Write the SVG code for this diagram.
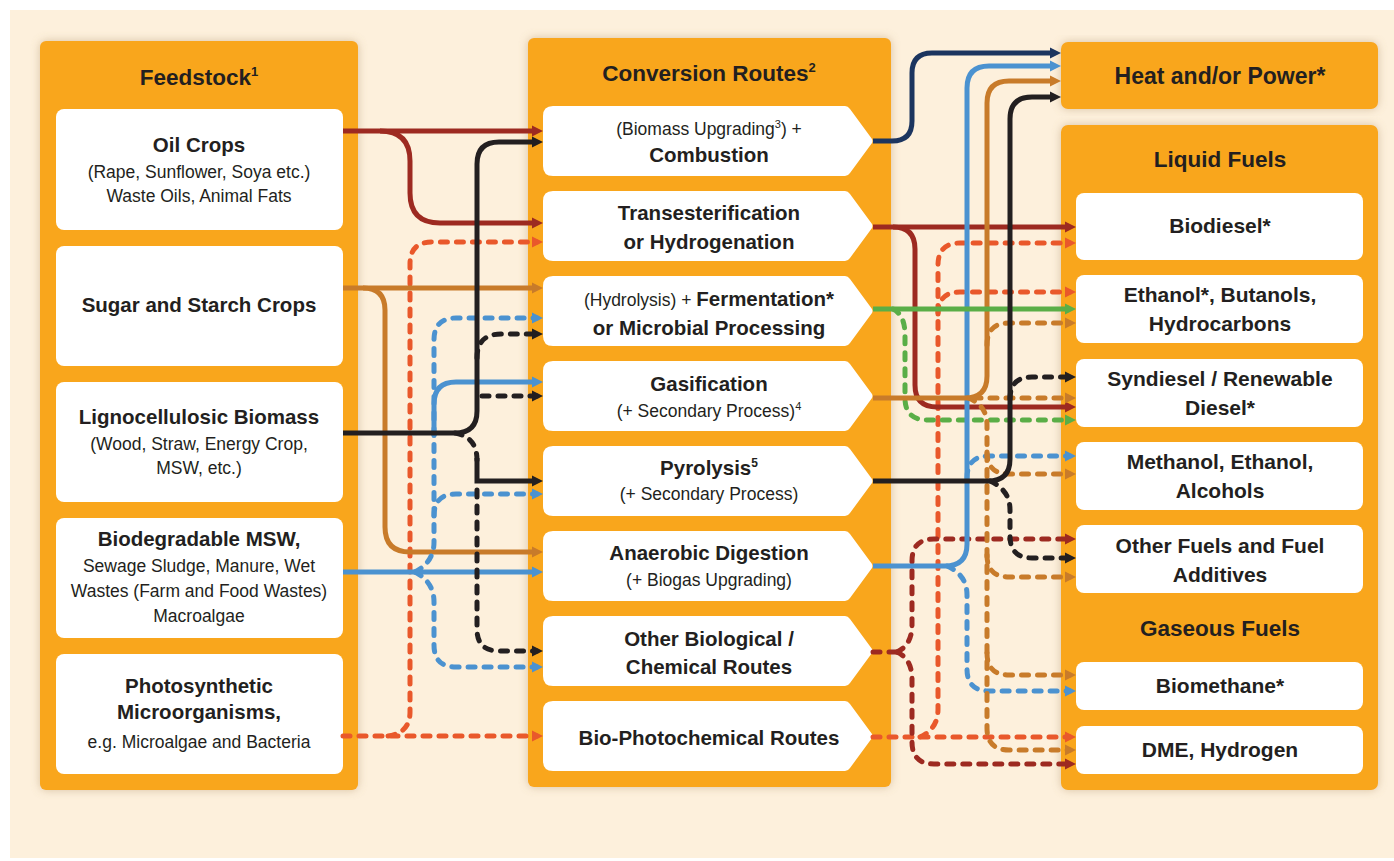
<svg xmlns="http://www.w3.org/2000/svg" width="1394" height="861" viewBox="0 0 1394 861">
<style>
.t{font-family:"Liberation Sans",Arial,sans-serif;fill:#231F20;text-anchor:middle}
.b{font-weight:bold;font-size:20.5px}
.r{font-size:17.5px}
.h{font-weight:bold;font-size:22.5px}
.rb{font-weight:bold;font-size:21px}
.panel{fill:#F9A61C;filter:url(#sh)}
.box{fill:#FFFFFF}
.c{fill:none;stroke-width:5}
.d{stroke-dasharray:7 9;stroke-linecap:round}
.dr{stroke:#9D2A21}.bk{stroke:#231F20}.or{stroke:#E9582B}.tn{stroke:#C87B2A}.bl{stroke:#4B92D0}.gr{stroke:#5AAE47}.nv{stroke:#1C355F}
</style>
<defs>
<filter id="sh" x="-10%" y="-10%" width="120%" height="120%">
<feDropShadow dx="0" dy="0" stdDeviation="5" flood-color="#A8875A" flood-opacity="0.45"/>
</filter>
<marker id="aDR" markerUnits="userSpaceOnUse" markerWidth="12" markerHeight="12" viewBox="0 0 12 12" refX="5" refY="6" orient="auto"><path d="M0,0.5 L11,6 L0,11.5 z" fill="#9D2A21"/></marker>
<marker id="aBK" markerUnits="userSpaceOnUse" markerWidth="12" markerHeight="12" viewBox="0 0 12 12" refX="5" refY="6" orient="auto"><path d="M0,0.5 L11,6 L0,11.5 z" fill="#231F20"/></marker>
<marker id="aOR" markerUnits="userSpaceOnUse" markerWidth="12" markerHeight="12" viewBox="0 0 12 12" refX="5" refY="6" orient="auto"><path d="M0,0.5 L11,6 L0,11.5 z" fill="#E9582B"/></marker>
<marker id="aTN" markerUnits="userSpaceOnUse" markerWidth="12" markerHeight="12" viewBox="0 0 12 12" refX="5" refY="6" orient="auto"><path d="M0,0.5 L11,6 L0,11.5 z" fill="#C87B2A"/></marker>
<marker id="aBL" markerUnits="userSpaceOnUse" markerWidth="12" markerHeight="12" viewBox="0 0 12 12" refX="5" refY="6" orient="auto"><path d="M0,0.5 L11,6 L0,11.5 z" fill="#4B92D0"/></marker>
<marker id="aGR" markerUnits="userSpaceOnUse" markerWidth="12" markerHeight="12" viewBox="0 0 12 12" refX="5" refY="6" orient="auto"><path d="M0,0.5 L11,6 L0,11.5 z" fill="#5AAE47"/></marker>
<marker id="aNV" markerUnits="userSpaceOnUse" markerWidth="12" markerHeight="12" viewBox="0 0 12 12" refX="5" refY="6" orient="auto"><path d="M0,0.5 L11,6 L0,11.5 z" fill="#1C355F"/></marker>
</defs>
<rect x="0" y="0" width="1394" height="861" fill="#FFFFFF"/>
<rect x="10" y="10" width="1384" height="848" fill="#FDF0DC"/>

<!-- Panels -->
<g id="feedstock-panel">
<rect class="panel" x="40" y="41" width="318" height="749" rx="6"/>
<text class="t h" x="199" y="85">Feedstock<tspan dy="-9" font-size="13">1</tspan></text>
</g>
<g id="conversion-panel">
<rect class="panel" x="528" y="38" width="363" height="749" rx="6"/>
<text class="t h" x="709" y="81">Conversion Routes<tspan dy="-9" font-size="13">2</tspan></text>
</g>
<g id="heat-power">
<rect class="panel" x="1061" y="42" width="317" height="67" rx="7"/>
<text class="t h" x="1220" y="84" style="font-size:23px">Heat and/or Power*</text>
</g>
<g id="fuels-panel">
<rect class="panel" x="1061" y="125" width="317" height="665" rx="7"/>
<text class="t h" x="1220" y="167">Liquid Fuels</text>
<text class="t h" x="1220" y="636">Gaseous Fuels</text>
</g>

<!-- Feedstock nodes -->
<g id="oil-crops">
<rect class="box" x="56" y="109" width="287" height="121" rx="8"/>
<text class="t b" x="199" y="152">Oil Crops</text>
<text class="t r" x="199" y="178">(Rape, Sunflower, Soya etc.)</text>
<text class="t r" x="199" y="202">Waste Oils, Animal Fats</text>
</g>
<g id="sugar-starch">
<rect class="box" x="56" y="246" width="287" height="120" rx="8"/>
<text class="t b" x="199" y="312">Sugar and Starch Crops</text>
</g>
<g id="lignocellulosic">
<rect class="box" x="56" y="382" width="287" height="120" rx="8"/>
<text class="t b" x="199" y="424">Lignocellulosic Biomass</text>
<text class="t r" x="199" y="450">(Wood, Straw, Energy Crop,</text>
<text class="t r" x="199" y="474">MSW, etc.)</text>
</g>
<g id="biodegradable-msw">
<rect class="box" x="56" y="518" width="287" height="120" rx="8"/>
<text class="t b" x="199" y="546">Biodegradable MSW,</text>
<text class="t r" x="199" y="572">Sewage Sludge, Manure, Wet</text>
<text class="t r" x="199" y="597">Wastes (Farm and Food Wastes)</text>
<text class="t r" x="199" y="622">Macroalgae</text>
</g>
<g id="photosynthetic">
<rect class="box" x="56" y="654" width="287" height="120" rx="8"/>
<text class="t b" x="199" y="693">Photosynthetic</text>
<text class="t b" x="199" y="719">Microorganisms,</text>
<text class="t r" x="199" y="748">e.g. Microalgae and Bacteria</text>
</g>

<!-- Conversion nodes -->
<g id="combustion">
<path class="box" d="M553,106 H845 Q848,106 850,109 L872,139 Q873,141 872,143 L850,173 Q848,176 845,176 H553 Q543,176 543,166 V116 Q543,106 553,106 Z"/>
<text class="t r" x="709" y="135">(Biomass Upgrading<tspan dy="-7" font-size="11">3</tspan><tspan dy="7">) +</tspan></text>
<text class="t b" x="709" y="162">Combustion</text>
</g>
<g id="transesterification">
<path class="box" d="M553,191 H845 Q848,191 850,194 L872,224 Q873,226 872,228 L850,258 Q848,261 845,261 H553 Q543,261 543,251 V201 Q543,191 553,191 Z"/>
<text class="t b" x="709" y="220">Transesterification</text>
<text class="t b" x="709" y="249">or Hydrogenation</text>
</g>
<g id="fermentation">
<path class="box" d="M553,276 H845 Q848,276 850,279 L872,309 Q873,311 872,313 L850,343 Q848,346 845,346 H553 Q543,346 543,336 V286 Q543,276 553,276 Z"/>
<text class="t" x="709" y="306"><tspan class="r">(Hydrolysis) + </tspan><tspan class="b">Fermentation*</tspan></text>
<text class="t b" x="709" y="335">or Microbial Processing</text>
</g>
<g id="gasification">
<path class="box" d="M553,361 H845 Q848,361 850,364 L872,394 Q873,396 872,398 L850,428 Q848,431 845,431 H553 Q543,431 543,421 V371 Q543,361 553,361 Z"/>
<text class="t b" x="709" y="391">Gasification</text>
<text class="t r" x="709" y="417">(+ Secondary Process)<tspan dy="-7" font-size="11">4</tspan></text>
</g>
<g id="pyrolysis">
<path class="box" d="M553,446 H845 Q848,446 850,449 L872,479 Q873,481 872,483 L850,513 Q848,516 845,516 H553 Q543,516 543,506 V456 Q543,446 553,446 Z"/>
<text class="t b" x="709" y="475">Pyrolysis<tspan dy="-8" font-size="12">5</tspan></text>
<text class="t r" x="709" y="500">(+ Secondary Process)</text>
</g>
<g id="anaerobic-digestion">
<path class="box" d="M553,531 H845 Q848,531 850,534 L872,564 Q873,566 872,568 L850,598 Q848,601 845,601 H553 Q543,601 543,591 V541 Q543,531 553,531 Z"/>
<text class="t b" x="709" y="560">Anaerobic Digestion</text>
<text class="t r" x="709" y="586">(+ Biogas Upgrading)</text>
</g>
<g id="other-biological">
<path class="box" d="M553,616 H845 Q848,616 850,619 L872,649 Q873,651 872,653 L850,683 Q848,686 845,686 H553 Q543,686 543,676 V626 Q543,616 553,616 Z"/>
<text class="t b" x="709" y="646">Other Biological /</text>
<text class="t b" x="709" y="674">Chemical Routes</text>
</g>
<g id="bio-photochemical">
<path class="box" d="M553,701 H845 Q848,701 850,704 L872,734 Q873,736 872,738 L850,768 Q848,771 845,771 H553 Q543,771 543,761 V711 Q543,701 553,701 Z"/>
<text class="t b" x="709" y="745">Bio-Photochemical Routes</text>
</g>

<!-- Product nodes -->
<g id="biodiesel">
<rect class="box" x="1076" y="193" width="287" height="67" rx="8"/>
<text class="t rb" x="1220" y="233">Biodiesel*</text>
</g>
<g id="ethanol">
<rect class="box" x="1076" y="275" width="287" height="68" rx="8"/>
<text class="t rb" x="1220" y="302">Ethanol*, Butanols,</text>
<text class="t rb" x="1220" y="331">Hydrocarbons</text>
</g>
<g id="syndiesel">
<rect class="box" x="1076" y="359" width="287" height="68" rx="8"/>
<text class="t rb" x="1220" y="386">Syndiesel / Renewable</text>
<text class="t rb" x="1220" y="415">Diesel*</text>
</g>
<g id="methanol">
<rect class="box" x="1076" y="442" width="287" height="68" rx="8"/>
<text class="t rb" x="1220" y="469">Methanol, Ethanol,</text>
<text class="t rb" x="1220" y="498">Alcohols</text>
</g>
<g id="other-fuels">
<rect class="box" x="1076" y="525" width="287" height="68" rx="8"/>
<text class="t rb" x="1220" y="553">Other Fuels and Fuel</text>
<text class="t rb" x="1220" y="582">Additives</text>
</g>
<g id="biomethane">
<rect class="box" x="1076" y="662" width="287" height="48" rx="8"/>
<text class="t rb" x="1220" y="693">Biomethane*</text>
</g>
<g id="dme-hydrogen">
<rect class="box" x="1076" y="726" width="287" height="48" rx="8"/>
<text class="t rb" x="1220" y="757">DME, Hydrogen</text>
</g>

<!-- Connectors -->
<g id="connectors">
<!-- left side -->
<path class="c d or" d="M388,736 Q410,733 410,712 V264 Q410,242 432,242 H537" marker-end="url(#aOR)"/>
<path class="c d or" d="M343,736 H537" marker-end="url(#aOR)"/>
<path class="c tn" d="M363,288 Q385,288 385,310 V527 Q385,552 410,552 H537" marker-end="url(#aTN)"/>
<path class="c tn" d="M343,288 H537" marker-end="url(#aTN)"/>
<path class="c dr" d="M380,131 Q410,131 410,161 V193 Q410,223 440,223 H537" marker-end="url(#aDR)"/>
<path class="c dr" d="M343,131 H537" marker-end="url(#aDR)"/>
<path class="c d bl" d="M415,572 Q434,562 434,542 V340 Q434,318 456,318 H537" marker-end="url(#aBL)"/>
<path class="c d bl" d="M434,516 Q434,494 456,494 H537" marker-end="url(#aBL)"/>
<path class="c d bl" d="M415,572 Q434,582 434,602 V645 Q434,667 456,667 H537" marker-end="url(#aBL)"/>
<path class="c bl" d="M434,436 V404 Q434,382 456,382 H537" marker-end="url(#aBL)"/>
<path class="c bl" d="M343,572 H537" marker-end="url(#aBL)"/>
<path class="c bk" d="M343,433 H455 Q477,433 477,411 V164 Q477,142 499,142 H537" marker-end="url(#aBK)"/>
<path class="c d bk" d="M477,358 Q477,334 501,334 H537" marker-end="url(#aBK)"/>
<path class="c d bk" d="M482,396 H537" marker-end="url(#aBK)"/>
<path class="c d bk" d="M455,433 Q477,437 477,460"/>
<path class="c bk" d="M477,458 V481 H537" marker-end="url(#aBK)"/>
<path class="c d bk" d="M477,490 V629 Q477,651 499,651 H537" marker-end="url(#aBK)"/>
<!-- right side -->
<path class="c nv" d="M873,141 H892 Q912,141 912,121 V73 Q912,53 932,53 H1055" marker-end="url(#aNV)"/>
<path class="c d or" d="M920,737 Q938,729 938,709 V265 Q938,243 960,243 H1070" marker-end="url(#aOR)"/>
<path class="c d or" d="M938,314 Q938,292 960,292 H1070" marker-end="url(#aOR)"/>
<path class="c d or" d="M873,737 H1070" marker-end="url(#aOR)"/>
<path class="c d gr" d="M893,309 Q905,315 905,335 V398 Q905,420 927,420 H1070" marker-end="url(#aGR)"/>
<path class="c dr" d="M893,227 Q915,227 915,249 V385 Q915,407 937,407 H1070" marker-end="url(#aDR)"/>
<path class="c dr" d="M873,227 H1070" marker-end="url(#aDR)"/>
<path class="c d dr" d="M873,652 H897"/>
<path class="c d dr" d="M897,652 Q912,645 912,625 V561 Q912,539 934,539 H1070" marker-end="url(#aDR)"/>
<path class="c d dr" d="M897,652 Q912,659 912,679 V742 Q912,764 934,764 H1070" marker-end="url(#aDR)"/>
<path class="c d bl" d="M947,566 Q967,575 967,595 V669 Q967,691 989,691 H1070" marker-end="url(#aBL)"/>
<path class="c d bl" d="M967,478 Q967,456 989,456 H1070" marker-end="url(#aBL)"/>
<path class="c bl" d="M873,566 H945 Q967,566 967,544 V88 Q967,66 989,66 H1055" marker-end="url(#aBL)"/>
<path class="c d tn" d="M968,398 Q987,405 987,425 V728 Q987,750 1009,750 H1070" marker-end="url(#aTN)"/>
<path class="c d tn" d="M987,452 Q987,474 1009,474 H1070" marker-end="url(#aTN)"/>
<path class="c d tn" d="M987,555 Q987,577 1009,577 H1070" marker-end="url(#aTN)"/>
<path class="c d tn" d="M987,653 Q987,675 1009,675 H1070" marker-end="url(#aTN)"/>
<path class="c d tn" d="M987,345 Q987,323 1009,323 H1070" marker-end="url(#aTN)"/>
<path class="c d tn" d="M974,398 H1070" marker-end="url(#aTN)"/>
<path class="c tn" d="M873,398 H965 Q987,398 987,376 V103 Q987,81 1009,81 H1055" marker-end="url(#aTN)"/>
<path class="c gr" d="M873,309 H1070" marker-end="url(#aGR)"/>
<path class="c d bk" d="M1010,399 Q1010,377 1032,377 H1070" marker-end="url(#aBK)"/>
<path class="c d bk" d="M990,481 Q1010,490 1010,510 V536 Q1010,558 1032,558 H1070" marker-end="url(#aBK)"/>
<path class="c bk" d="M873,481 H988 Q1010,481 1010,459 V119 Q1010,97 1032,97 H1055" marker-end="url(#aBK)"/>
</g>
</svg>
